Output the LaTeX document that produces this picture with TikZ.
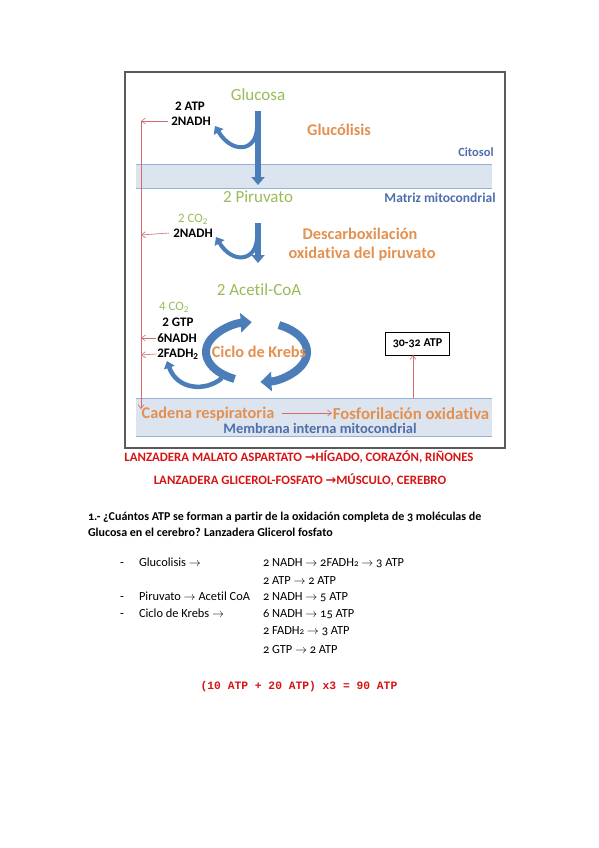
\documentclass[tikz,border=0pt]{standalone}
\usepackage{fontspec}
\setmainfont{Carlito}[Ligatures=NoCommon]
\newfontfamily\osf{Carlito}[Numbers=OldStyle,Ligatures=NoCommon]
\newfontfamily\monofont{Liberation Mono}
\newfontfamily\dejavu{DejaVu Sans}
\usetikzlibrary{arrows.meta}
\definecolor{bandblue}{RGB}{220,228,240}
\definecolor{bandline}{RGB}{149,179,215}
\definecolor{txtblue}{RGB}{79,110,170}
\definecolor{arrblue}{RGB}{75,125,185}
\definecolor{txtgreen}{RGB}{155,187,89}
\definecolor{txtorange}{RGB}{228,145,80}
\definecolor{linered}{RGB}{215,105,105}
\definecolor{txtred}{RGB}{215,20,20}
\definecolor{framegray}{RGB}{90,90,90}
\begin{document}
\begin{tikzpicture}[x=1pt,y=-1pt,
  every node/.style={inner sep=0pt, outer sep=0pt},
  lbl/.style={font=\fontsize{13}{15}\selectfont\bfseries},
  grnsm/.style={text=txtgreen, font=\fontsize{12.8}{15}\selectfont},
  grn/.style={text=txtgreen, font=\fontsize{17}{20}\selectfont},
  org/.style={text=txtorange, font=\fontsize{16.3}{19}\selectfont\bfseries},
  blu/.style={text=txtblue, font=\fontsize{13.5}{16}\selectfont\bfseries},
  redarr/.style={draw=linered, line width=0.6pt, -{Straight Barb[length=4pt,width=6pt]}},
  flow/.style={draw=arrblue, line width=5.5pt, -{Triangle[length=8pt,width=13pt]}},
  hook/.style={draw=arrblue, line width=4pt, -{Triangle[length=7pt,width=11pt]}},
  cyc/.style={draw=arrblue, line width=8pt, -{Triangle[length=11pt,width=19pt]}},
  band/.style={fill=bandblue, draw=none},
  bline/.style={draw=bandline, line width=1pt},
  redtitle/.style={text=txtred, font=\fontsize{12.8}{15}\selectfont\bfseries},
  body/.style={font=\osf\fontsize{12.4}{15}\selectfont, anchor=west, text height=8.5pt, text depth=2.5pt},
]
\useasboundingbox (0,0) rectangle (599,848);
\fill[white] (0,0) rectangle (599,848);

% frame
\draw[framegray, line width=1.2pt] (125,72) rectangle (505,448);

% bands
\fill[band] (136,164) rectangle (492,188);
\draw[bline] (136,164) -- (492,164);
\draw[bline] (136,188) -- (492,188);
\fill[band] (136,398) rectangle (492,436);
\draw[bline] (136,398) -- (492,398);
\draw[bline] (136,436) -- (492,436);

% texts
\node[grn] (glu) at (258,95) {Glucosa};
\node[lbl] (atp1) at (190,106) {2 ATP};
\node[lbl] (nadh1) at (191,121) {2NADH};
\node[org] (gluc) at (339,130) {Glucólisis};
\node[blu, font=\fontsize{12.5}{15}\selectfont\bfseries] (cit) at (476,152) {Citosol};
\node[grn] (pir) at (258,197) {2 Piruvato};
\node[blu] (mat) at (440,198) {Matriz mitocondrial};
\node[grnsm] (co2a) at (193,219) {2 CO\textsubscript{2}};
\node[lbl] (nadh2) at (193,233) {2NADH};
\node[org] (desc) at (360,234) {Descarboxilación};
\node[org] (oxid) at (362,254) {oxidativa del piruvato};
\node[grn] (acet) at (259,290) {2 Acetil-CoA};
\node[grnsm] (co2b) at (174,307) {4 CO\textsubscript{2}};
\node[lbl] (gtp) at (178,322) {2 GTP};
\node[lbl] (nadh3) at (177,338) {6NADH};
\node[lbl] (fadh) at (178,354) {2FADH\textsubscript{2}};

% Krebs cycle arrows
\coordinate (kc) at (257,352);
\draw[cyc] (kc) ++(116:51 and 30) arc[start angle=116, end angle=264, x radius=51, y radius=30];
\draw[cyc] (kc) ++(-64:50 and 30) arc[start angle=-64, end angle=86, x radius=50, y radius=30];
\coordinate (k1) at (222,378);
\coordinate (k2) at (167,361);
\draw[hook, line width=4.5pt] (k1) .. controls (206,392) and (177,390) .. (k2);
\node[org] (krebs) at (259,352) {Ciclo de Krebs};

\node[draw=black, line width=0.8pt, minimum width=64pt, minimum height=23pt, font=\osf\fontsize{12}{14}\selectfont\bfseries] (box) at (417.5,343.5) {30-32 ATP};
\node[org] (cad) at (208,414) {Cadena respiratoria};
\node[org, font=\fontsize{16.8}{19}\selectfont\bfseries] (fos) at (411,414) {Fosforilación oxidativa};
\node[blu, font=\fontsize{14.5}{17}\selectfont\bfseries] (mem) at (320,428) {Membrana interna mitocondrial};

% blue flow arrows
\coordinate (g1) at (258,111);
\coordinate (g2) at (258,185);
\draw[flow] (g1) -- (g2);
\coordinate (h1s) at (257,128);
\coordinate (h1e) at (215,126);
\draw[hook] (h1s) .. controls (256,152) and (232,154) .. (h1e);
\coordinate (p1) at (258,223);
\coordinate (p2) at (258,263);
\draw[flow] (p1) -- (p2);
\coordinate (h2s) at (257,238);
\coordinate (h2e) at (216,237);
\draw[hook] (h2s) .. controls (256,262) and (232,264) .. (h2e);

% red connectors
\coordinate (r1) at (141,121);
\coordinate (r2) at (141,235);
\coordinate (r3) at (141,338);
\coordinate (r4) at (141,355);
\coordinate (rend) at (141,409);
\draw[redarr] (nadh1.west) ++(-3,0) -- (r1);
\draw[redarr] (nadh2.west) ++(-4,0) -- (r2);
\draw[redarr] (nadh3.west) ++(-1,0) -- (r3);
\draw[redarr] (fadh.west) ++(-1,0) -- (r4);
\draw[redarr] (r1) -- (rend);
\coordinate (c1) at (282,413);
\coordinate (c2) at (332,413);
\draw[redarr] (c1) -- (c2);
\coordinate (f1) at (413,398);
\draw[redarr] (f1) -- (box.south -| f1);

% lower text
\node[redtitle] (l1) at (299,457) {LANZADERA MALATO ASPARTATO {\dejavu\bfseries →}HÍGADO, CORAZÓN, RIÑONES};
\node[redtitle] (l2) at (300,480) {LANZADERA GLICEROL-FOSFATO {\dejavu\bfseries →}MÚSCULO, CEREBRO};
\node[body, font=\osf\fontsize{12}{14}\selectfont\bfseries] (q1) at (88,517) {1.- ¿Cuántos ATP se forman a partir de la oxidación completa de 3 moléculas de};
\node[body, font=\osf\fontsize{12}{14}\selectfont\bfseries] (q2) at (88,533) {Glucosa en el cerebro? Lanzadera Glicerol fosfato};

\node[body] (d1) at (120,563) {-};
\node[body] (t1) at (139,563) {Glucolisis $\rightarrow$};
\node[body] (a1) at (263,563) {2 NADH $\rightarrow$ 2FADH{\fontsize{9}{10}\selectfont 2} $\rightarrow$ 3 ATP};
\node[body] (a2) at (263,581) {2 ATP $\rightarrow$ 2 ATP};
\node[body] (d2) at (120,597) {-};
\node[body] (t2) at (139,597) {Piruvato $\rightarrow$ Acetil CoA};
\node[body] (a3) at (263,597) {2 NADH $\rightarrow$ 5 ATP};
\node[body] (d3) at (120,614) {-};
\node[body] (t3) at (139,614) {Ciclo de Krebs $\rightarrow$};
\node[body] (a4) at (263,614) {6 NADH $\rightarrow$ 15 ATP};
\node[body] (a5) at (263,631) {2 FADH{\fontsize{9}{10}\selectfont 2} $\rightarrow$ 3 ATP};
\node[body] (a6) at (263,650) {2 GTP $\rightarrow$ 2 ATP};

\node[text=txtred, font=\monofont\bfseries\fontsize{11.3}{13}\selectfont] (eq) at (299,687) {(10 ATP + 20 ATP) x3 = 90 ATP};
\end{tikzpicture}
\end{document}
